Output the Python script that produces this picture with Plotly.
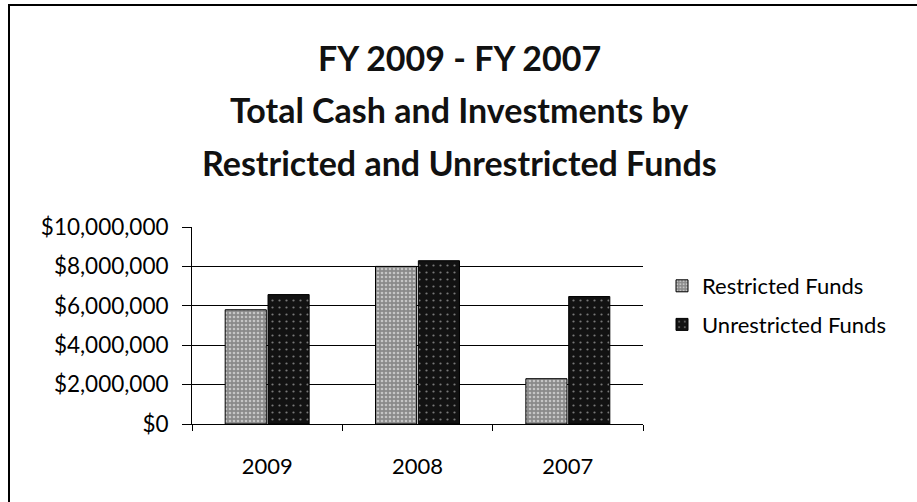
import plotly.graph_objects as go

years = ["2009", "2008", "2007"]
restricted = [5800000, 8000000, 2300000]
unrestricted = [6570000, 8290000, 6470000]
series_names = ["Restricted Funds", "Unrestricted Funds"]
title_lines = ["FY 2009 - FY 2007", "Total Cash and Investments by", "Restricted and Unrestricted Funds"]

FONT = "Lato"
OFF = 0  # page body margin removed via post_script
W, H = 917, 502
# target plot area in screen pixels: x 192..643, y 227..424
L, R, T, B = 192 - OFF, W - (643 - OFF), 227 - OFF, H - (424 - OFF)
pw, ph = W - L - R, H - T - B

def px2x(px):
    return (px - OFF - L) / pw

def py2y(py):
    return (H - B - (py - OFF)) / ph

fig = go.Figure()
fig.add_trace(go.Bar(
    x=years, y=restricted, name=series_names[0], legendgroup="a",
    marker=dict(color="#8a8a8a", line=dict(color="black", width=1),
                pattern=dict(shape=".", fgcolor="white", size=4, solidity=0.35)),
))
fig.add_trace(go.Bar(
    x=years, y=unrestricted, name=series_names[1], legendgroup="b",
    marker=dict(color="#121212", line=dict(color="black", width=1),
                pattern=dict(shape=".", fgcolor="#dddddd", size=7, solidity=0.08)),
))

fig.update_layout(
    width=W, height=H,
    margin=dict(l=L, r=R, t=T, b=B, autoexpand=False),
    paper_bgcolor="white", plot_bgcolor="white",
    font=dict(family=FONT, color="black", size=22),
    barmode="group", bargap=0.43, bargroupgap=0.04,
    showlegend=True,
    legend=dict(x=px2x(662), y=py2y(265), xanchor="left", yanchor="top",
                font=dict(size=22, family=FONT), itemwidth=30,
                traceorder="grouped", tracegroupgap=7, bgcolor="rgba(0,0,0,0)"),
    xaxis=dict(showline=True, linecolor="black", linewidth=1, ticks="outside",
               tickson="boundaries", ticklen=6, tickcolor="black",
               tickfont=dict(size=22, family=FONT), ticklabelstandoff=23,
               showgrid=False),
    yaxis=dict(range=[0, 10000000], dtick=2000000, tickprefix="$", tickformat=",",
               showline=True, linecolor="black", linewidth=1, ticks="outside",
               ticklen=9, tickcolor="black", showgrid=True, gridcolor="black",
               gridwidth=1, zeroline=False, tickfont=dict(size=22.5, family=FONT),
               ticklabelstandoff=9),
)

title_y = [57, 109, 162]
for txt, yy in zip(title_lines, title_y):
    fig.add_annotation(text="<b>" + txt + "</b>", xref="paper", yref="paper",
                       x=px2x(459), y=py2y(yy), xanchor="center", yanchor="middle",
                       showarrow=False, font=dict(size=34, family=FONT, color="#111"))

fig.add_shape(type="rect", xref="paper", yref="paper",
              x0=px2x(9), x1=px2x(950), y0=py2y(540), y1=py2y(5),
              line=dict(color="black", width=2), fillcolor="rgba(0,0,0,0)", layer="below")

fig.write_html("out.html", config={"displayModeBar": False},
               post_script="document.body.style.margin='0';")
